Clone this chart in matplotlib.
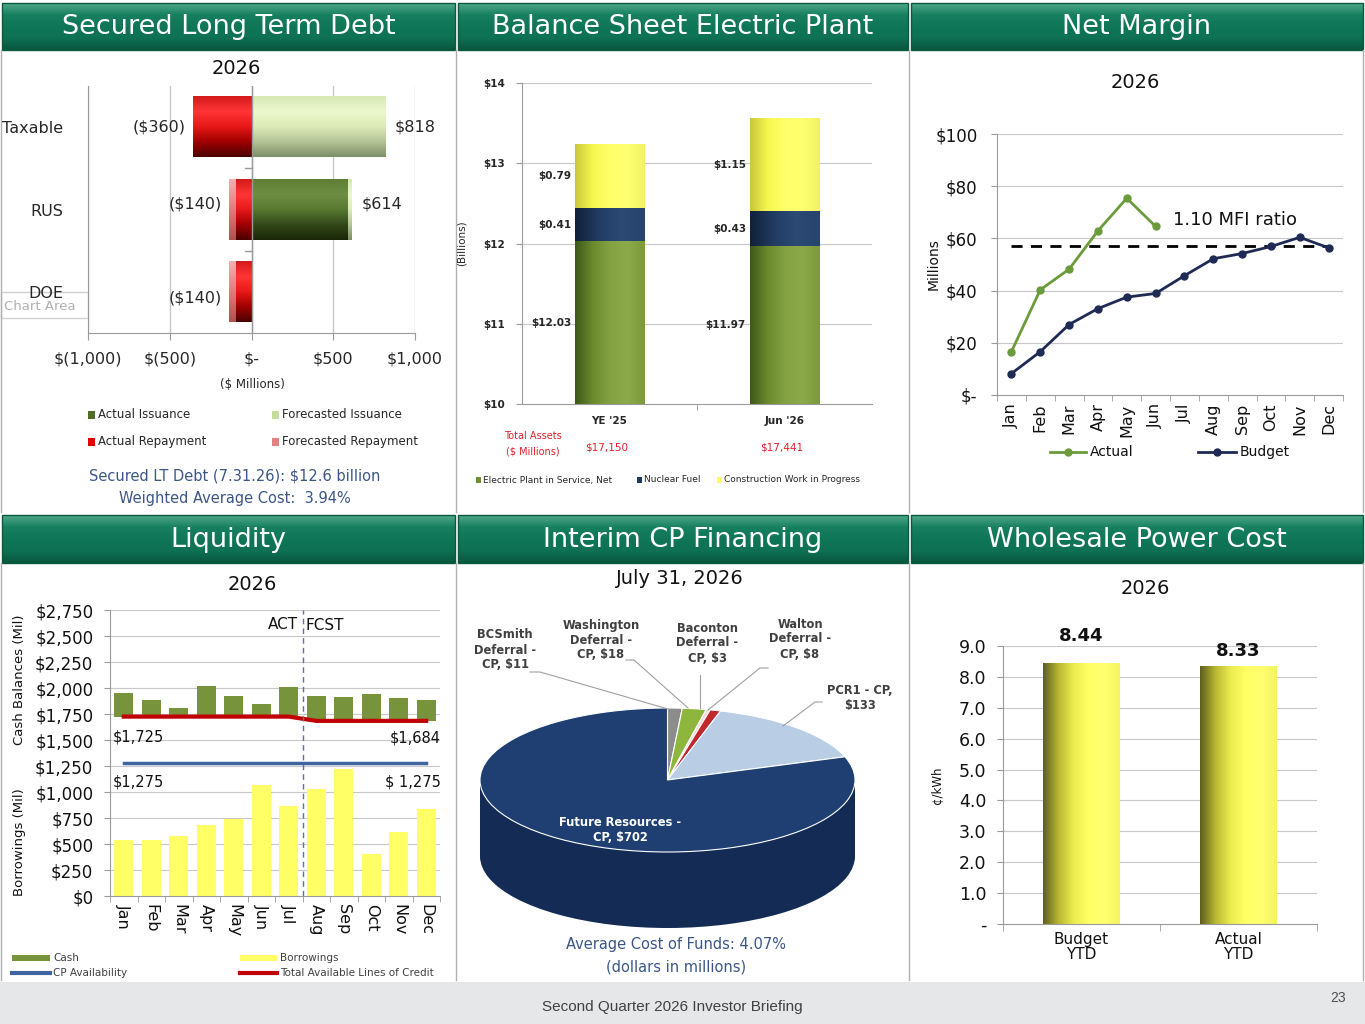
import numpy as np
import matplotlib
matplotlib.use('Agg')
import matplotlib.pyplot as plt
from matplotlib.colors import LinearSegmentedColormap
from matplotlib.patches import Rectangle

W, H = 1365, 1024
plt.rcParams['font.family'] = 'DejaVu Sans'

# ---------------- data ----------------
debt_cats = ['Taxable', 'RUS', 'DOE']
actual_issuance = [0, 590, 0]
forecast_issuance = [818, 24, 0]
actual_repayment = [-360, -100, -100]
forecast_repayment = [0, -40, -40]
issuance_text = ['$818', '$614', '']
repayment_text = ['($360)', '($140)', '($140)']
debt_ticks = [-1000, -500, 0, 500, 1000]
debt_ticklabels = ['$(1,000)', '$(500)', '$-', '$500', '$1,000']
debt_legend = ['Actual Issuance', 'Forecasted Issuance', 'Actual Repayment', 'Forecasted Repayment']

plant_cats = ["YE '25", "Jun '26"]
plant_service = [12.03, 11.97]
nuclear_fuel = [0.41, 0.43]
cwip = [0.79, 1.15]
total_assets = ['$17,150', '$17,441']
plant_legend = ['Electric Plant in Service, Net', 'Nuclear Fuel', 'Construction Work in Progress']

months = ['Jan', 'Feb', 'Mar', 'Apr', 'May', 'Jun', 'Jul', 'Aug', 'Sep', 'Oct', 'Nov', 'Dec']
margin_actual = [16.6, 40.3, 48.2, 62.9, 75.4, 64.6]
margin_budget = [8.2, 16.6, 27.0, 33.1, 37.5, 38.9, 45.7, 52.2, 54.2, 56.9, 60.4, 56.4]
mfi_level = 56.9

cash = [1954, 1884, 1807, 2022, 1925, 1845, 2009, 1925, 1913, 1941, 1900, 1884]
credit_lines = [1725, 1725, 1725, 1725, 1725, 1725, 1725, 1684, 1684, 1684, 1684, 1684]
borrowings = [536, 536, 574, 687, 738, 1072, 863, 1027, 1220, 408, 616, 841]
cp_availability = [1275, 1275, 1275, 1275, 1275, 1275, 1275, 1275, 1275, 1275, 1275, 1275]

cp_names = ['BCSmith\nDeferral -\nCP, $11', 'Washington\nDeferral -\nCP, $18',
            'Baconton\nDeferral -\nCP, $3', 'Walton\nDeferral -\nCP, $8',
            'PCR1 - CP,\n$133', 'Future Resources -\nCP, $702']
cp_values = [11, 18, 3, 8, 133, 702]

wpc_cats = ['Budget\nYTD', 'Actual\nYTD']
wpc_values = [8.44, 8.33]

# ---------------- helpers ----------------
fig = plt.figure(figsize=(13.65, 10.24), dpi=100)
fig.patch.set_facecolor('white')


def px_axes(x0, y0, x1, y1):
    return fig.add_axes([x0 / W, 1 - y1 / H, (x1 - x0) / W, (y1 - y0) / H])


def cmap_of(colors):
    return LinearSegmentedColormap.from_list('g', colors)


def gbar(ax, x0, x1, y0, y1, colors, across_x=True, z=2):
    if across_x:
        grad = np.linspace(0, 1, 128).reshape(1, -1)
    else:
        grad = np.linspace(0, 1, 128).reshape(-1, 1)
    ax.imshow(grad, extent=[x0, x1, y0, y1], origin='lower', cmap=cmap_of(colors),
              aspect='auto', interpolation='bilinear', zorder=z)


GRID = '#C8C8C8'
AXC = '#9A9A9A'
SLATE = '#3B5687'

bg = fig.add_axes([0, 0, 1, 1])
bg.set_zorder(-5)
bg.axis('off')

ov = fig.add_axes([0, 0, 1, 1])
ov.set_zorder(5)
ov.axis('off')
ov.patch.set_alpha(0)

# headers
hdr_colors = ['#4FA888', '#17805F', '#0F7657', '#0E7154', '#08563D']
headers = [(2, 455, 3, 50, 'Secured Long Term Debt'),
           (458, 908, 3, 50, 'Balance Sheet Electric Plant'),
           (911, 1363, 3, 50, 'Net Margin'),
           (2, 455, 515, 563, 'Liquidity'),
           (458, 908, 515, 563, 'Interim CP Financing'),
           (911, 1363, 515, 563, 'Wholesale Power Cost')]
for x0, x1, y0, y1, t in headers:
    grad = np.linspace(0, 1, 64).reshape(-1, 1)
    bg.imshow(grad, extent=[x0, x1, y1, y0], origin='upper', cmap=cmap_of(hdr_colors),
              aspect='auto', interpolation='bilinear')
    bg.add_patch(Rectangle((x0, y0), x1 - x0, y1 - y0, fill=False, ec='#0A5A40', lw=1))
    bg.text((x0 + x1) / 2, (y0 + y1) / 2 + 1, t, color='white', fontsize=19.5,
            ha='center', va='center')

# panel separators
for x in [1, 456, 909, 1363]:
    bg.plot([x, x], [50, 512], color='#B0B0B0', lw=1)
    bg.plot([x, x], [563, 980], color='#B0B0B0', lw=1)

# footer
bg.add_patch(Rectangle((0, 982), W, 42, color='#E6E7E9', lw=0))
bg.text(672, 1007, 'Second Quarter 2026 Investor Briefing', fontsize=11,
        family='Liberation Sans', color='#404040', ha='center', va='center')
bg.text(1338, 998, '23', fontsize=10, family='Liberation Sans', color='#505050',
        ha='center', va='center')

# "Chart Area" tooltip
bg.add_patch(Rectangle((1, 292), 87, 26, fc='white', ec='#D0D0D0', lw=1))
bg.text(4, 307, 'Chart Area', fontsize=9.5, color='#B0B0B0', va='center')

# ---------------- Secured Long Term Debt ----------------
ax1 = px_axes(88, 86, 415, 333)
bh = 0.73
red_c = ['#D41A1A', '#FF3535', '#E81818', '#A00000', '#4A0000']
pink_c = ['#F4B0B0', '#F08A8A', '#D86A6A', '#B05050']
dgreen_c = ['#5E7E34', '#6E8E42', '#587830', '#33481A', '#1A2608']
lgreen_c = ['#D6E8B4', '#ECF8CC', '#DCEBB8', '#B4C496', '#7E8E66']
for i in range(len(debt_cats)):
    top, bot = i - bh / 2, i + bh / 2
    x = 0
    if actual_issuance[i]:
        gbar(ax1, x, x + actual_issuance[i], top, bot, dgreen_c, across_x=False)
        x += actual_issuance[i]
    if forecast_issuance[i]:
        gbar(ax1, x, x + forecast_issuance[i], top, bot, lgreen_c, across_x=False)
    x = 0
    if actual_repayment[i]:
        gbar(ax1, x + actual_repayment[i], x, top, bot, red_c, across_x=False)
        x += actual_repayment[i]
    if forecast_repayment[i]:
        gbar(ax1, x + forecast_repayment[i], x, top, bot, pink_c, across_x=False)
    tot_iss = actual_issuance[i] + forecast_issuance[i]
    tot_rep = actual_repayment[i] + forecast_repayment[i]
    dy = [0, -0.07, 0.07][i]
    if issuance_text[i]:
        ax1.text(tot_iss + 60, i + dy, issuance_text[i], fontsize=11.5, color='#262626',
                 ha='left', va='center')
    ax1.text(tot_rep - 40, i + dy, repayment_text[i], fontsize=11.5, color='#262626',
             ha='right', va='center')
for t in debt_ticks:
    ax1.axvline(t, color=GRID, lw=1, zorder=0)
ax1.axvline(0, color=AXC, lw=1, zorder=3)
for b in [0.5, 1.5]:
    ax1.plot([-40, 0], [b, b], color=AXC, lw=1, zorder=3)
ax1.set_xlim(-1000, 1000)
ax1.set_ylim(2.5, -0.5)
ax1.set_xticks(debt_ticks)
ax1.set_xticklabels(debt_ticklabels, fontsize=11.5, color='#262626')
ax1.set_yticks(range(len(debt_cats)))
ax1.set_yticklabels(debt_cats, fontsize=11.5, color='#262626')
ax1.tick_params(axis='y', length=0, pad=18)
ax1.tick_params(axis='x', length=5, color=AXC, pad=8)
for s in ['top', 'right']:
    ax1.spines[s].set_visible(False)
for s in ['left', 'bottom']:
    ax1.spines[s].set_color(AXC)

ov.text(236, 68, '2026', fontsize=14, ha='center', va='center', color='#111111')
ov.text(252, 384, '($ Millions)', fontsize=8.5, ha='center', va='center', color='#262626')
leg_cols = ['#4F6B28', '#C4DC9C', '#E00000', '#E08080']
leg_pos = [(88, 415), (272, 415), (88, 442), (272, 442)]
for (lx, ly), lab, col in zip(leg_pos, debt_legend, leg_cols):
    ov.add_patch(Rectangle((lx, ly - 4), 7, 8, color=col, lw=0))
    ov.text(lx + 10, ly, lab, fontsize=8.5, va='center', color='#262626')
ov.text(235, 476, 'Secured LT Debt (7.31.26): $12.6 billion', fontsize=10.5, color=SLATE,
        ha='center', va='center')
ov.text(235, 498, 'Weighted Average Cost:  3.94%', fontsize=10.5, color=SLATE,
        ha='center', va='center')

# ---------------- Balance Sheet Electric Plant ----------------
ax2 = px_axes(522, 83, 872, 404)
bw = 0.4
g_c = ['#3E5818', '#6A8A2E', '#84A242', '#8CAA4A', '#7C9A3C']
n_c = ['#102038', '#213C62', '#2B4A74', '#26446C']
y_c = ['#C8C83A', '#F6F650', '#FFFF6A', '#FFFF72', '#F2F264']
base = 10
for i in range(len(plant_cats)):
    x0, x1 = i - bw / 2, i + bw / 2
    segs = [(base, plant_service[i], g_c), (plant_service[i], plant_service[i] + nuclear_fuel[i], n_c),
            (plant_service[i] + nuclear_fuel[i], plant_service[i] + nuclear_fuel[i] + cwip[i], y_c)]
    vals = [plant_service[i], nuclear_fuel[i], cwip[i]]
    for (lo, hi, cols), v in zip(segs, vals):
        gbar(ax2, x0, x1, lo, hi, cols)
        ax2.text(x0 - 0.02, (lo + hi) / 2, f'${v:.2f}', fontsize=7.5, fontweight='bold',
                 color='#262626', ha='right', va='center')
for v in [11, 12, 13, 14]:
    ax2.axhline(v, color=GRID, lw=0.8, zorder=0)
ax2.set_xlim(-0.5, 1.5)
ax2.set_ylim(10, 14)
ax2.set_yticks([10, 11, 12, 13, 14])
ax2.set_yticklabels([f'${v}' for v in [10, 11, 12, 13, 14]], fontsize=7.5,
                    fontweight='bold', color='#262626')
ax2.set_xticks([0, 1])
ax2.set_xticklabels(plant_cats, fontsize=7.5, fontweight='bold', color='#262626')
ax2.set_xticks([0.5], minor=True)
ax2.tick_params(axis='x', which='major', length=0, pad=9)
ax2.tick_params(axis='x', which='minor', length=4, color=AXC)
ax2.tick_params(axis='y', length=4, color=AXC, pad=8)
ax2.set_ylabel('(Billions)', fontsize=7.5, color='#262626', labelpad=12)
for s in ['top', 'right']:
    ax2.spines[s].set_visible(False)
for s in ['left', 'bottom']:
    ax2.spines[s].set_color(AXC)
ov.text(533, 436, 'Total Assets', fontsize=7, color='#E0202A', ha='center', va='center')
ov.text(533, 452, '($ Millions)', fontsize=7, color='#E0202A', ha='center', va='center')
for xc, t in zip([607, 782], total_assets):
    ov.text(xc, 447, t, fontsize=7.5, color='#E0202A', ha='center', va='center')
plx = [476, 637, 717]
plc = ['#6E8E30', '#1F3A62', '#FFFF66']
for lx, lab, col in zip(plx, plant_legend, plc):
    ov.add_patch(Rectangle((lx, 477), 5, 6, color=col, lw=0))
    ov.text(lx + 7, 480, lab, fontsize=6.5, va='center', color='#262626')

# ---------------- Net Margin ----------------
ax3 = px_axes(997, 134, 1343, 395)
xm = np.arange(len(months))
ax3.plot(xm[:len(margin_actual)], margin_actual, color='#6B9B3A', lw=2, marker='o',
         ms=5, zorder=4)
ax3.plot(xm, margin_budget, color='#1F2A55', lw=2, marker='o', ms=5, zorder=4)
ax3.plot([xm[0], xm[-1]], [mfi_level, mfi_level], color='black', lw=2,
         ls=(0, (4, 3)), zorder=3)
ax3.text(5.6, 67, '1.10 MFI ratio', fontsize=13, color='#111111', ha='left', va='center')
for v in [20, 40, 60, 80, 100]:
    ax3.axhline(v, color=GRID, lw=0.8, zorder=0)
ax3.set_xlim(-0.5, 11.5)
ax3.set_ylim(0, 100)
ax3.set_yticks([0, 20, 40, 60, 80, 100])
ax3.set_yticklabels(['$-' if v == 0 else f'${v}' for v in [0, 20, 40, 60, 80, 100]],
                    fontsize=12, color='#111111')
ax3.set_xticks(xm)
ax3.set_xticklabels(months, rotation=90, fontsize=11.5, color='#111111')
ax3.set_xticks(np.arange(-0.5, 12, 1), minor=True)
ax3.tick_params(axis='x', which='major', length=0, pad=6)
ax3.tick_params(axis='x', which='minor', length=4, color=AXC)
ax3.tick_params(axis='y', length=4, color=AXC, pad=10)
ax3.set_ylabel('Millions', fontsize=10, color='#111111', labelpad=-4)
for s in ['top', 'right']:
    ax3.spines[s].set_visible(False)
for s in ['left', 'bottom']:
    ax3.spines[s].set_color(AXC)
ov.text(1135, 82, '2026', fontsize=14, ha='center', va='center', color='#111111')
ov.plot([1050, 1086], [452, 452], color='#6B9B3A', lw=2)
ov.plot([1068], [452], color='#6B9B3A', marker='o', ms=5)
ov.text(1090, 452, 'Actual', fontsize=10, va='center', color='#111111')
ov.plot([1198, 1236], [452, 452], color='#1F2A55', lw=2)
ov.plot([1217], [452], color='#1F2A55', marker='o', ms=5)
ov.text(1240, 452, 'Budget', fontsize=10, va='center', color='#111111')

# ---------------- Liquidity ----------------
ax4 = px_axes(110, 610, 440, 896)
xl = np.arange(len(months))
ax4.bar(xl, borrowings, width=0.7, color='#FFFF66', zorder=2)
ax4.bar(xl, np.array(cash) - np.array(credit_lines), bottom=credit_lines, width=0.7,
        color='#77933C', zorder=2)
ax4.plot(xl, credit_lines, color='#C00000', lw=3, zorder=3)
ax4.plot(xl, cp_availability, color='#3F64A0', lw=2.5, zorder=3)
ax4.axvline(6.5, color='#6070A0', lw=1, ls=(0, (4, 3)), zorder=4)
ax4.text(6.35, 2610, 'ACT', fontsize=11, ha='right', va='center', color='#111111')
ax4.text(6.6, 2600, 'FCST', fontsize=11, ha='left', va='center', color='#111111')
yt = np.arange(0, 2751, 250)
for v in yt[1:]:
    ax4.axhline(v, color=GRID, lw=0.8, zorder=0)
ax4.set_xlim(-0.5, 11.5)
ax4.set_ylim(0, 2750)
ax4.set_yticks(yt)
ax4.set_yticklabels([f'${v:,.0f}' for v in yt], fontsize=12, color='#111111')
ax4.set_xticks(xl)
ax4.set_xticklabels(months, rotation=-90, fontsize=11.5, color='#111111')
ax4.set_xticks(np.arange(-0.5, 12, 1), minor=True)
ax4.tick_params(axis='x', which='major', length=0, pad=6)
ax4.tick_params(axis='x', which='minor', length=4, color=AXC)
ax4.tick_params(axis='y', length=4, color=AXC, pad=8)
for s in ['top', 'right']:
    ax4.spines[s].set_visible(False)
for s in ['left', 'bottom']:
    ax4.spines[s].set_color(AXC)
ov.text(252, 585, '2026', fontsize=14, ha='center', va='center', color='#111111')
ov.text(20, 680, 'Cash Balances (Mil)', fontsize=9.5, rotation=90, ha='center',
        va='center', color='#111111')
ov.text(20, 842, 'Borrowings (Mil)', fontsize=9.5, rotation=90, ha='center',
        va='center', color='#111111')
ov.text(113, 737, f'${credit_lines[0]:,}', fontsize=10.5, ha='left', va='center', color='#111111')
ov.text(441, 738, f'${credit_lines[-1]:,}', fontsize=10.5, ha='right', va='center', color='#111111')
ov.text(113, 782, f'${cp_availability[0]:,}', fontsize=10.5, ha='left', va='center', color='#111111')
ov.text(441, 782, f'$ {cp_availability[-1]:,}', fontsize=10.5, ha='right', va='center', color='#111111')
ov.add_patch(Rectangle((12, 955), 38, 6, color='#77933C', lw=0))
ov.text(53, 958, 'Cash', fontsize=7.5, va='center', color='#404040')
ov.add_patch(Rectangle((240, 955), 37, 6, color='#FFFF66', lw=0))
ov.text(280, 958, 'Borrowings', fontsize=7.5, va='center', color='#404040')
ov.plot([12, 50], [973, 973], color='#3F64A0', lw=3)
ov.text(53, 973, 'CP Availability', fontsize=7.5, va='center', color='#404040')
ov.plot([240, 277], [973, 973], color='#C00000', lw=3)
ov.text(280, 973, 'Total Available Lines of Credit', fontsize=7.5, va='center', color='#404040')

# ---------------- Interim CP Financing (3D pie) ----------------
ax5 = px_axes(470, 700, 865, 935)
rx, ry, depth_px = 187.5, 72.0, 76.0
top_cols = ['#8C8C8C', '#8DB63C', '#F2DCDB', '#C0282D', '#B9CDE5', '#1F3F73']
side_cols = ['#5E5E5E', '#5F7E24', '#B8A0A0', '#7E1418', '#8296B0', '#142C55']
depth = depth_px / ry
nl = 32
for k in range(nl):
    cy = -depth * (1 - k / nl)
    ax5.pie(cp_values, colors=side_cols, startangle=90, counterclock=False,
            center=(0, cy), radius=1, wedgeprops=dict(linewidth=0))
ax5.pie(cp_values, colors=top_cols, startangle=90, counterclock=False, center=(0, 0),
        radius=1, wedgeprops=dict(linewidth=0.8, edgecolor='white'))
ax5.set_aspect('auto')
ax5.set_xlim(-395 / 2 / rx, 395 / 2 / rx)
ax5.set_ylim(-(935 - 780) / ry, (780 - 700) / ry)
ax5.axis('off')

ov.text(680, 579, 'July 31, 2026', fontsize=14, ha='center', va='center', color='#111111')
lab_pos = [(505, 650), (601, 640), (707, 643), (800, 639), (860, 698), (620, 830)]
for (lx, ly), t, i in zip(lab_pos, cp_names, range(len(cp_names))):
    ov.text(lx, ly, t, fontsize=8.3, fontweight='bold', ha='center', va='center',
            color='white' if i == 5 else '#404040', linespacing=1.2)
lead_col = '#A0A0A0'
ov.plot([530, 540, 668], [672, 672, 709], color=lead_col, lw=0.8)
ov.plot([626, 634, 688], [660, 660, 708], color=lead_col, lw=0.8)
ov.plot([700, 700], [675, 708], color=lead_col, lw=0.8)
ov.plot([768, 760, 708], [668, 668, 710], color=lead_col, lw=0.8)
ov.plot([822, 815, 783], [702, 702, 726], color=lead_col, lw=0.8)
ov.text(676, 944, 'Average Cost of Funds: 4.07%', fontsize=10.5, color=SLATE,
        ha='center', va='center')
ov.text(676, 967, '(dollars in millions)', fontsize=10.5, color=SLATE,
        ha='center', va='center')

# ---------------- Wholesale Power Cost ----------------
ax6 = px_axes(1003, 646, 1317, 924)
ww = 0.49
wy_c = ['#5E5E1E', '#B8B834', '#ECEC50', '#FFFF66', '#FFFF70', '#F4F460']
label_offsets = [0.88, 0.5]
for i, v in enumerate(wpc_values):
    gbar(ax6, i - ww / 2, i + ww / 2, 0, v, wy_c)
    ax6.text(i, v + label_offsets[i], f'{v:.2f}', fontsize=13, fontweight='bold',
             ha='center', va='center', color='#111111')
yw = np.arange(0, 10, 1)
for v in yw[1:]:
    ax6.axhline(v, color=GRID, lw=0.8, zorder=0)
ax6.set_xlim(-0.5, 1.5)
ax6.set_ylim(0, 9)
ax6.set_yticks(yw)
ax6.set_yticklabels(['-' if v == 0 else f'{v:.1f}' for v in yw], fontsize=12.5, color='#111111')
ax6.set_xticks([0, 1])
ax6.set_xticklabels(wpc_cats, fontsize=11, color='#111111', linespacing=1.0)
ax6.set_xticks([-0.5, 0.5, 1.5], minor=True)
ax6.tick_params(axis='x', which='major', length=0, pad=6)
ax6.tick_params(axis='x', which='minor', length=5, color=AXC)
ax6.tick_params(axis='y', length=4, color=AXC, pad=8)
for s in ['top', 'right']:
    ax6.spines[s].set_visible(False)
for s in ['left', 'bottom']:
    ax6.spines[s].set_color(AXC)
ov.text(937, 785, '¢/kWh', fontsize=8.5, rotation=90, ha='center', va='center',
        color='#111111')
ov.text(1145, 588, '2026', fontsize=14, ha='center', va='center', color='#111111')

# limits for the pixel-space layers
for a in (bg, ov):
    a.set_xlim(0, W)
    a.set_ylim(H, 0)

fig.savefig('out.png', dpi=100)
